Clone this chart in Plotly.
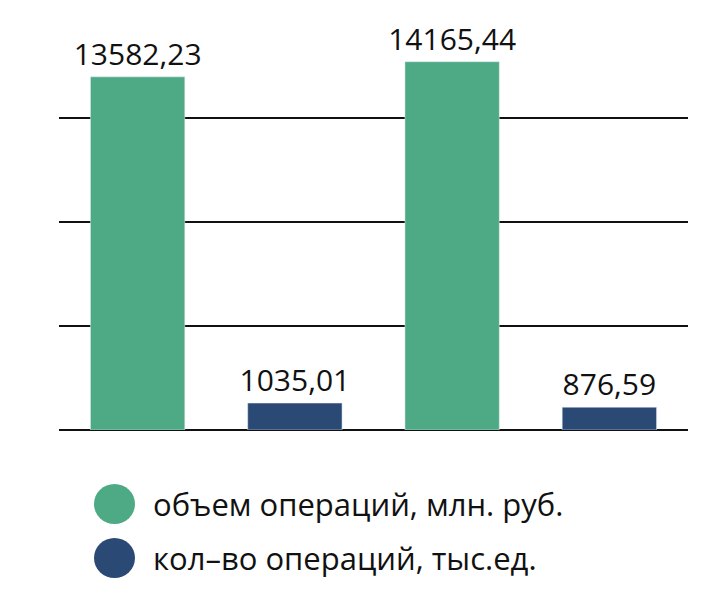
import plotly.graph_objects as go

positions = [0, 1, 2, 3]
volume_x = [0, 2]
volume_vals = [13582.23, 14165.44]
count_x = [1, 3]
count_vals = [1035.01, 876.59]
series_names = ["объем операций, млн. руб.", "кол–во операций, тыс.ед."]
colors = ["#4daa84", "#2a4a75"]

def fmt(v):
    return f"{v:.2f}".replace(".", ",")

fig = go.Figure()
for xs, vs, c in [(volume_x, volume_vals, colors[0]), (count_x, count_vals, colors[1])]:
    fig.add_trace(go.Bar(x=xs, y=vs, marker_color=c, width=0.6,
                         text=[fmt(v) for v in vs], textposition="outside",
                         textfont=dict(size=30, color="#111"), cliponaxis=False,
                         showlegend=False))

shapes, annotations = [], []
for i, (name, c) in enumerate(zip(series_names, colors)):
    yc = 503 + i * 54
    shapes.append(dict(type="circle", xref="paper", yref="paper",
                       x0=(93 - 58) / 629, x1=(134 - 58) / 629,
                       y0=(429 - yc - 20) / 416, y1=(429 - yc + 20) / 416,
                       fillcolor=c, line_width=0))
    annotations.append(dict(xref="paper", yref="paper", x=(150 - 58) / 629,
                            y=(429 - yc) / 416, text=name, showarrow=False,
                            xanchor="left", yanchor="middle",
                            font=dict(size=31, color="#111")))

fig.update_layout(
    width=724, height=612, margin=dict(l=51, r=44, t=6, b=190),
    paper_bgcolor="white", plot_bgcolor="white",
    font=dict(family="Open Sans"),
    uniformtext=dict(minsize=30, mode="show"),
    xaxis=dict(range=[-0.5, 3.5], showticklabels=False, showgrid=False, zeroline=False),
    yaxis=dict(range=[0, 16000], tickvals=[0, 4000, 8000, 12000], showticklabels=False,
               showgrid=True, gridcolor="#111", gridwidth=1.5,
               zeroline=True, zerolinecolor="#111", zerolinewidth=1.5),
    shapes=shapes, annotations=annotations, bargap=0.4,
)
fig.write_html("out.html")
